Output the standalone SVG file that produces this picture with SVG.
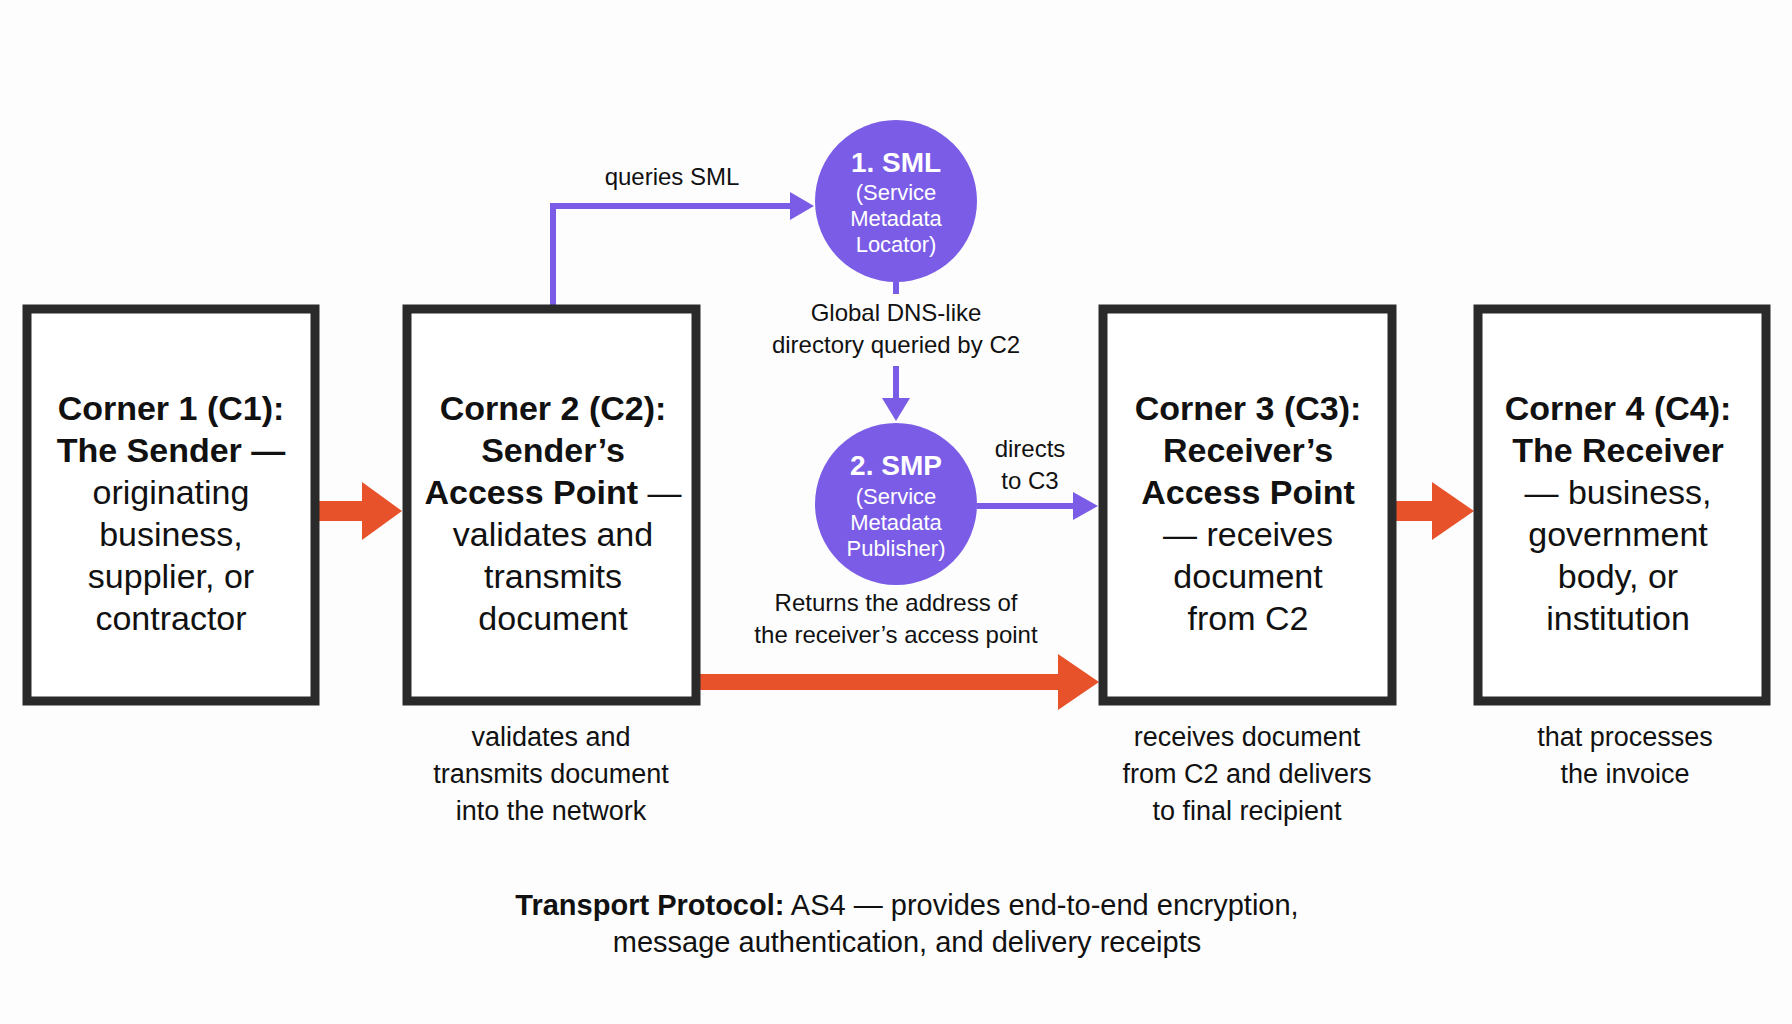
<svg xmlns="http://www.w3.org/2000/svg" width="1792" height="1024" viewBox="0 0 1792 1024">
<style>
text{font-family:"Liberation Sans",Arial,sans-serif;fill:#111;text-anchor:middle}
.box{fill:#fff;stroke:#2a2a2a;stroke-width:9}
.bt{font-size:34px}
.b{font-weight:bold}
.lbl{font-size:24px}
.sub{font-size:27px}
.ct{fill:#fff;font-size:22px}
.ctb{fill:#fff;font-size:28px;font-weight:bold}
.pl{fill:none;stroke:#7b5ce6;stroke-width:6}
.or{fill:#e8522a}
.pu{fill:#7b5ce6}
</style>
<rect width="1792" height="1024" fill="#fdfdfd"/>
<g id="connectors">
<polyline class="pl" points="553,309 553,206 792,206"/>
<polygon class="pu" points="790,192 814,206 790,220"/>
<line class="pl" x1="896" y1="282" x2="896" y2="294"/>
<line class="pl" x1="896" y1="366" x2="896" y2="400"/>
<polygon class="pu" points="882,398 910,398 896,421"/>
<line class="pl" x1="977" y1="506" x2="1075" y2="506"/>
<polygon class="pu" points="1073,492 1098,506 1073,520"/>
<rect class="or" x="698" y="674" width="362" height="16"/>
<polygon class="or" points="1058,654 1099,682 1058,710"/>
<rect class="or" x="318" y="501" width="48" height="20"/>
<polygon class="or" points="362,482 402,511 362,540"/>
<rect class="or" x="1394" y="501" width="42" height="20"/>
<polygon class="or" points="1432,482 1474,511 1432,540"/>
<text class="lbl" x="672" y="185">queries SML</text>
<text class="lbl" x="896" y="321">Global DNS-like</text>
<text class="lbl" x="896" y="353">directory queried by C2</text>
<text class="lbl" x="1030" y="457">directs</text>
<text class="lbl" x="1030" y="489">to C3</text>
<text class="lbl" x="896" y="611">Returns the address of</text>
<text class="lbl" x="896" y="643">the receiver’s access point</text>
</g>
<g id="c1">
<rect class="box" x="27" y="309" width="288" height="392"/>
<text class="bt" x="171" y="420"><tspan class="b">Corner 1 (C1):</tspan><tspan x="171" dy="42" class="b">The Sender —</tspan><tspan x="171" dy="42">originating</tspan><tspan x="171" dy="42">business,</tspan><tspan x="171" dy="42">supplier, or</tspan><tspan x="171" dy="42">contractor</tspan></text>
</g>
<g id="c2">
<rect class="box" x="407" y="309" width="289" height="392"/>
<text class="bt" x="553" y="420"><tspan class="b">Corner 2 (C2):</tspan><tspan x="553" dy="42" class="b">Sender’s</tspan><tspan x="553" dy="42"><tspan class="b">Access Point</tspan> —</tspan><tspan x="553" dy="42">validates and</tspan><tspan x="553" dy="42">transmits</tspan><tspan x="553" dy="42">document</tspan></text>
<text class="sub" x="551" y="746">validates and<tspan x="551" dy="37">transmits document</tspan><tspan x="551" dy="37">into the network</tspan></text>
</g>
<g id="c3">
<rect class="box" x="1103" y="309" width="289" height="392"/>
<text class="bt" x="1248" y="420"><tspan class="b">Corner 3 (C3):</tspan><tspan x="1248" dy="42" class="b">Receiver’s</tspan><tspan x="1248" dy="42" class="b">Access Point</tspan><tspan x="1248" dy="42">— receives</tspan><tspan x="1248" dy="42">document</tspan><tspan x="1248" dy="42">from C2</tspan></text>
<text class="sub" x="1247" y="746">receives document<tspan x="1247" dy="37">from C2 and delivers</tspan><tspan x="1247" dy="37">to final recipient</tspan></text>
</g>
<g id="c4">
<rect class="box" x="1478" y="309" width="288" height="392"/>
<text class="bt" x="1618" y="420"><tspan class="b">Corner 4 (C4):</tspan><tspan x="1618" dy="42" class="b">The Receiver</tspan><tspan x="1618" dy="42">— business,</tspan><tspan x="1618" dy="42">government</tspan><tspan x="1618" dy="42">body, or</tspan><tspan x="1618" dy="42">institution</tspan></text>
<text class="sub" x="1625" y="746">that processes<tspan x="1625" dy="37">the invoice</tspan></text>
</g>
<g id="sml">
<circle class="pu" cx="896" cy="201" r="81"/>
<text class="ctb" x="896" y="172">1. SML</text>
<text class="ct" x="896" y="200">(Service<tspan x="896" dy="26">Metadata</tspan><tspan x="896" dy="26">Locator)</tspan></text>
</g>
<g id="smp">
<circle class="pu" cx="896" cy="504" r="81"/>
<text class="ctb" x="896" y="475">2. SMP</text>
<text class="ct" x="896" y="504">(Service<tspan x="896" dy="26">Metadata</tspan><tspan x="896" dy="26">Publisher)</tspan></text>
</g>
<g id="footer">
<text x="907" y="915" style="font-size:29px"><tspan class="b">Transport Protocol:</tspan> AS4 — provides end-to-end encryption,<tspan x="907" dy="37">message authentication, and delivery receipts</tspan></text>
</g>
</svg>
